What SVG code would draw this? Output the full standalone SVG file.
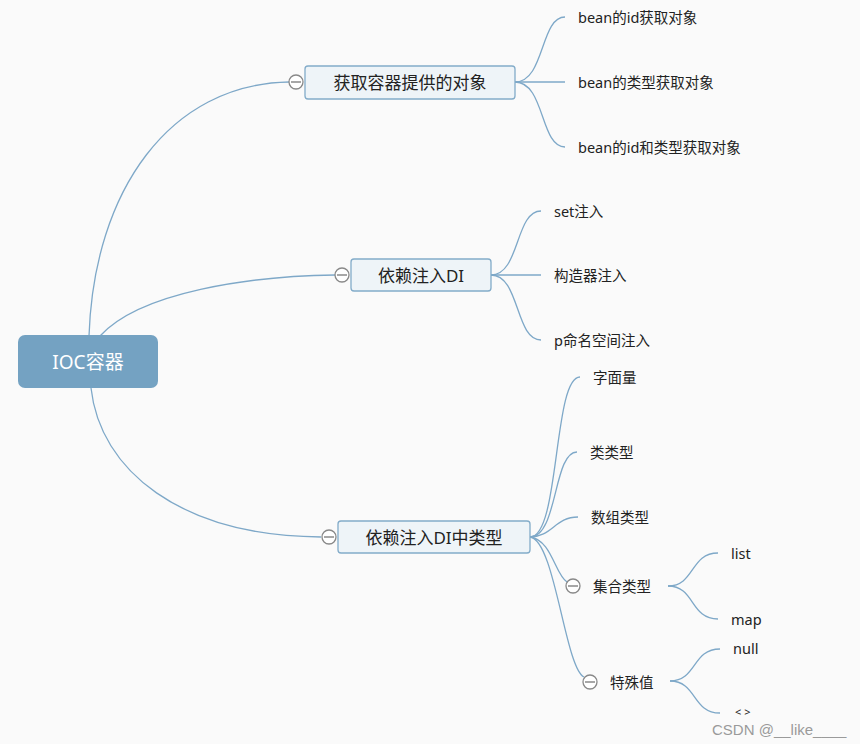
<svg xmlns="http://www.w3.org/2000/svg" width="860" height="744" viewBox="0 0 860 744">
<style>
.c{fill:none;stroke:#7ea8c8;stroke-width:1.3}
.n{fill:#eef4f8;stroke:#83acc9;stroke-width:1.3}
.t{font-family:"Noto Sans","Noto Sans CJK SC",sans-serif;fill:#222}
.m{font-size:17px;text-anchor:middle}
.s{font-size:14.5px}
.col circle{fill:#fff;stroke:#888;stroke-width:1.3}
.col line{stroke:#777;stroke-width:1.3}
</style>
<defs>
<g id="minus" class="col"><circle r="7"/><line x1="-5" y1="0" x2="5" y2="0"/></g>
</defs>
<rect width="860" height="744" fill="#fafafa"/>
<g id="connectors">
<path class="c" d="M89,336 C94,190 170,84 289,82"/>
<path class="c" d="M100,336 C140,292 250,276 335,275"/>
<path class="c" d="M91,388 C100,470 180,536 321,537"/>
<path class="c" d="M515,82 C545,82 540,17 565,17"/>
<path class="c" d="M515,82 L565,82"/>
<path class="c" d="M515,82 C545,82 540,147 565,147"/>
<path class="c" d="M491,275 C520,275 515,211 541,211"/>
<path class="c" d="M491,275 L541,275"/>
<path class="c" d="M491,275 C520,275 515,340 541,340"/>
<path class="c" d="M530,537 C560,537 553,377 580,377"/>
<path class="c" d="M530,537 C558,537 553,452 577,452"/>
<path class="c" d="M530,537 C552,537 555,517 578,517"/>
<path class="c" d="M530,537 C552,540 555,575 567,582"/>
<path class="c" d="M530,537 C555,540 565,668 584,677"/>
<path class="c" d="M668,586 C695,586 690,553 718,553"/>
<path class="c" d="M668,586 C695,586 690,619 718,619"/>
<path class="c" d="M670,681 C697,681 692,649 720,649"/>
<path class="c" d="M670,681 C697,681 692,713 720,713"/>
</g>
<g id="root">
<rect x="18" y="335" width="140" height="53" rx="7" fill="#74a2c2"/>
<text class="t" x="88" y="369" font-size="19" text-anchor="middle" style="fill:#fff">IOC容器</text>
</g>
<g id="n1">
<rect class="n" x="305" y="66" width="210" height="33" rx="3"/>
<text class="t m" x="410" y="89">获取容器提供的对象</text>
<use href="#minus" x="296" y="82"/>
</g>
<g id="n2">
<rect class="n" x="351" y="259" width="140" height="32" rx="3"/>
<text class="t m" x="421" y="282">依赖注入DI</text>
<use href="#minus" x="342" y="275"/>
</g>
<g id="n3">
<rect class="n" x="338" y="521" width="192" height="32" rx="3"/>
<text class="t m" x="434" y="544">依赖注入DI中类型</text>
<use href="#minus" x="329" y="537"/>
</g>
<g id="n1a"><text class="t s" x="578" y="23">bean的id获取对象</text></g>
<g id="n1b"><text class="t s" x="578" y="88">bean的类型获取对象</text></g>
<g id="n1c"><text class="t s" x="578" y="153">bean的id和类型获取对象</text></g>
<g id="n2a"><text class="t s" x="554" y="217">set注入</text></g>
<g id="n2b"><text class="t s" x="554" y="281">构造器注入</text></g>
<g id="n2c"><text class="t s" x="554" y="346">p命名空间注入</text></g>
<g id="n3a"><text class="t s" x="593" y="383">字面量</text></g>
<g id="n3b"><text class="t s" x="590" y="458">类类型</text></g>
<g id="n3c"><text class="t s" x="591" y="523">数组类型</text></g>
<g id="n3d"><use href="#minus" x="573" y="586"/><text class="t s" x="593" y="592">集合类型</text></g>
<g id="n3e"><use href="#minus" x="590" y="682"/><text class="t s" x="610" y="688">特殊值</text></g>
<g id="n3d1"><text class="t s" x="731" y="559">list</text></g>
<g id="n3d2"><text class="t s" x="731" y="625">map</text></g>
<g id="n3e1"><text class="t s" x="733" y="654">null</text></g>
<g id="n3e2"><text class="t" x="735" y="716" font-size="11">&lt; &gt;</text></g>
<text x="712" y="735" font-family="Liberation Sans, sans-serif" font-size="15" fill="#9a9a9a">CSDN @__like____</text>
</svg>
